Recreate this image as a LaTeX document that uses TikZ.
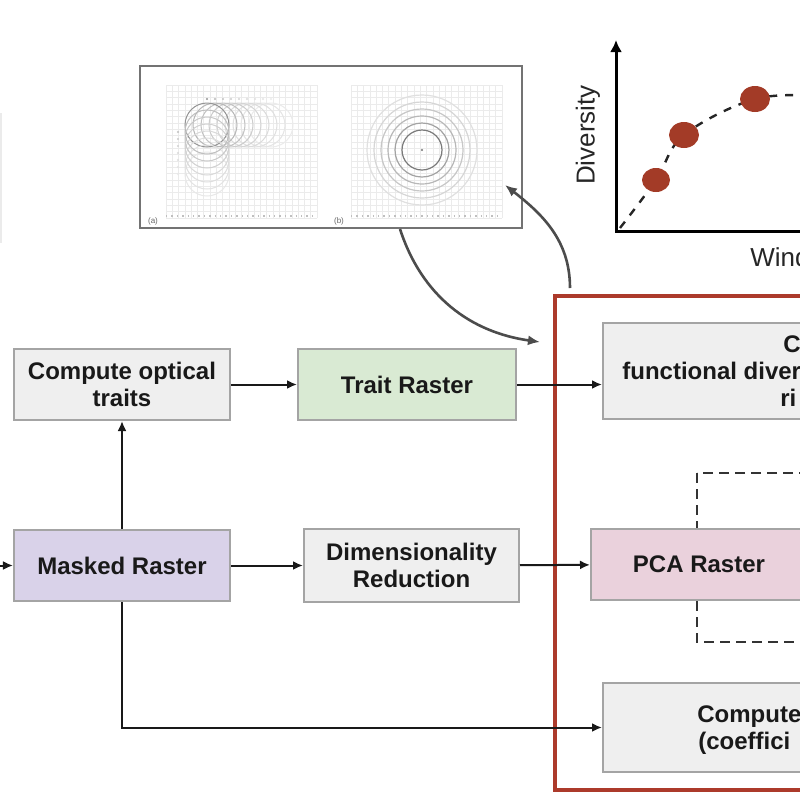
\documentclass[tikz,border=0pt]{standalone}
\usepackage{fontspec}
\setmainfont{Liberation Sans}
\usetikzlibrary{arrows.meta}

\definecolor{boxgray}{HTML}{EFEFEF}
\definecolor{boxedge}{HTML}{A4A4A4}
\definecolor{traitgreen}{HTML}{D9EAD3}
\definecolor{maskpurple}{HTML}{D9D2E9}
\definecolor{pcapink}{HTML}{EAD1DC}
\definecolor{framered}{HTML}{AC3A2B}
\definecolor{dotred}{HTML}{A33B27}

\tikzset{
  stepbox/.style={draw=boxedge, line width=1pt, fill=boxgray, text=black!90,
    font=\fontsize{12}{13.8}\selectfont\bfseries, align=center, inner sep=0pt,
    minimum width=108pt, minimum height=35.5pt},
  frag/.style={anchor=base west, inner sep=0pt, text=black!90,
    font=\fontsize{12}{13.8}\selectfont\bfseries},
  flow/.style={-{Latex[length=5pt,width=4.5pt]}, line width=1pt, draw=black!90},
  curvedflow/.style={-{Latex[length=6pt,width=5pt]}, line width=1.3pt, draw=black!70},
  gridline/.style={draw=black!8, line width=0.25pt},
}

\begin{document}
\begin{tikzpicture}[x=0.5pt, y=-0.5pt]
            \useasboundingbox (0,0) rectangle (800,800);
            \clip (0,0) rectangle (800,800);

            \draw[black!8, line width=0.8pt] (1,113) -- (1,243);

            % moving window figure
            \node[draw=black!55, line width=1pt, fill=white, inner sep=0pt,
                  minimum width=191pt, minimum height=81pt] (winfig) at (331,147) {};
            \foreach \ox in {166,351} {
                \foreach \i in {0,...,24}
                    \draw[gridline] ({\ox+6.29*\i},85) -- ({\ox+6.29*\i},218);
                \foreach \j in {0,...,21}
                    \draw[gridline] (\ox,{85+6.33*\j}) -- ({\ox+151},{85+6.33*\j});
                \draw[black!25, dotted, line width=0.7pt] (\ox,216) -- ({\ox+151},216);
            }
            \foreach \k/\s in {8/8,7/10,6/12,5/14,4/17,3/20,2/24,1/28,0/42} {
                \draw[black!\s, line width=0.5pt] ({207+8*\k},125) circle (22);
                \fill[black!\s] ({207+8*\k},99) circle (1.1);
            }
            \foreach \k/\s in {7/9,6/11,5/13,4/15,3/18,2/21,1/25} {
                \draw[black!\s, line width=0.5pt] (207,{125+7*\k}) circle (22);
                \fill[black!\s] (178,{125+7*\k}) circle (1.1);
            }
            \foreach \r/\s in {55/12,48/16,41/22,34/28,27/36,20/52}
                \draw[black!\s, line width=0.6pt] (422,150) circle (\r);
            \fill[black!55] (422,150) circle (1.2);
            \node[font=\fontsize{4}{4}\selectfont, text=black!60, inner sep=0pt] (wina) at (153,221) {(a)};
            \node[font=\fontsize{4}{4}\selectfont, text=black!60, inner sep=0pt] (winb) at (339,221) {(b)};

            % diversity curve
            \draw[line width=1.5pt, -{Latex[length=6pt,width=6pt]}] (616,231) -- (616,40);
            \draw[line width=1.5pt] (615,231) -- (820,231);
            \node[rotate=90, font=\fontsize{13}{13}\selectfont, text=black!85] (ylab) at (588,135) {Diversity};
            \node[anchor=west, inner sep=0pt, font=\fontsize{13}{13}\selectfont, text=black!85] (xlab) at (750,257) {Wind};
            \draw[dashed, dash pattern=on 4pt off 4pt, line width=1.2pt, black!85]
                plot[smooth, tension=0.6] coordinates {(620,228) (656,180) (684,135) (755,99) (820,96)};
            \fill[dotred] (656,180) ellipse (14 and 12);
            \fill[dotred] (684,135) ellipse (15 and 13);
            \fill[dotred] (755,99) ellipse (15 and 13);

            % frames
            \draw[framered, line width=1.8pt] (555,296) rectangle (1000,790);
            \draw[black!80, line width=1.3pt, dash pattern=on 5pt off 3pt] (697,473) rectangle (1000,642);

            \node[stepbox] (optic) at (122,384.5) {Compute optical\\traits};
            \node[stepbox, fill=traitgreen, minimum width=109pt] (trait) at (407,384.5) {Trait Raster};
            \node[stepbox, fill=maskpurple] (masked) at (122,565.5) {Masked Raster};
            \node[stepbox, minimum width=107.5pt, minimum height=36.5pt] (dimred) at (411.5,565.5) {Dimensionality\\Reduction};
            \node[stepbox, fill=pcapink] (pca) at (699,564.5) {PCA Raster};
            \node[stepbox, minimum width=200pt, minimum height=48pt] (fdiv) at (803,371) {};
            \node[stepbox, minimum width=200pt, minimum height=44.5pt] (coef) at (803,727.5) {};

            \node[frag] (fdivtop) at (783,352) {C};
            \node[frag] (fdivmid) at (622,379) {functional diver};
            \node[frag] (fdivbot) at (780,406) {ri};
            \node[frag] (coeftop) at (697,722) {Compute};
            \node[frag] (coefbot) at (698,749) {(coeffici};

            \coordinate (offleft) at (-30,565.5);
            \coordinate (figout) at (400,229);
            \coordinate (framein) at (540,342);
            \coordinate (frameout) at (570,288);
            \coordinate (figin) at (505,185);

            \draw[flow] (offleft) -- (masked);
            \draw[flow] (masked) -- (optic);
            \draw[flow] (optic) -- (trait);
            \draw[flow] (masked) -- (dimred);
            \draw[flow] (trait.east) -- (trait.east -| fdiv.west);
            \draw[flow] (dimred) -- (pca);
            \draw[flow] (masked.south) |- (coef.west);

            \draw[curvedflow] (figout) to[out=-72, in=172] (framein);
            \draw[curvedflow] (frameout) to[out=90, in=-38] (figin);
        \end{tikzpicture}
\end{document}
